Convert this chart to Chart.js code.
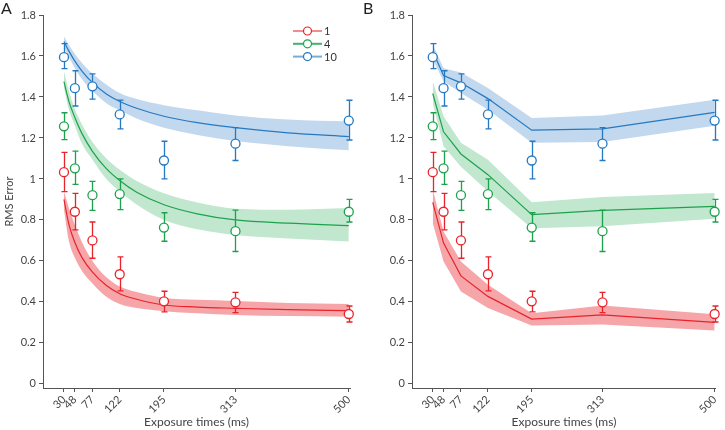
<!DOCTYPE html>
<html>
<head>
<meta charset="utf-8">
<script src="https://cdn.jsdelivr.net/npm/chart.js@4.4.1/dist/chart.umd.min.js"></script>
<style>
  html, body { margin: 0; padding: 0; background: #fff; }
  #wrap { position: relative; width: 725px; height: 430px; }
  canvas { position: absolute; top: 0; }
  #chartA { left: 0; }
  #chartB { left: 362px; }
</style>
</head>
<body>
<div id="wrap">
  <canvas id="chartA" width="362" height="430"></canvas>
  <canvas id="chartB" width="363" height="430"></canvas>
</div>
<script>
// categories / ticks
const setSizes = ['1', '4', '10'];
const exposureTimes = [30, 48, 77, 122, 195, 313, 500];
const yTicks = [0, 0.2, 0.4, 0.6, 0.8, 1, 1.2, 1.4, 1.6, 1.8];
const yTickLabels = ['0', '0.2', '0.4', '0.6', '0.8', '1', '1.2', '1.4', '1.6', '1.8'];

// measured RMS error (circles) with error bar ends
const rms1 = [1.033, 0.84, 0.70, 0.535, 0.403, 0.398, 0.341];
const rms1Hi = [1.13, 0.93, 0.79, 0.62, 0.452, 0.447, 0.38];
const rms1Lo = [0.938, 0.752, 0.613, 0.454, 0.351, 0.348, 0.302];
const rms4 = [1.257, 1.052, 0.921, 0.926, 0.763, 0.745, 0.84];
const rms4Hi = [1.323, 1.136, 0.988, 1.0, 0.835, 0.848, 0.90];
const rms4Lo = [1.192, 0.974, 0.847, 0.85, 0.696, 0.646, 0.79];
const rms10 = [1.594, 1.443, 1.452, 1.315, 1.09, 1.172, 1.285];
const rms10Hi = [1.66, 1.528, 1.513, 1.385, 1.184, 1.25, 1.384];
const rms10Lo = [1.538, 1.356, 1.39, 1.244, 1.0, 1.09, 1.19];

// panel A: fitted curves
const fitTimes = [30, 38, 48, 60, 77, 100, 122, 150, 195, 250, 313, 400, 500];
const fitA1 = [0.90, 0.78, 0.69, 0.615, 0.545, 0.48, 0.44, 0.413, 0.385, 0.375, 0.369, 0.362, 0.358];
const fitA1Hi = [0.94, 0.86, 0.775, 0.69, 0.60, 0.52, 0.475, 0.448, 0.42, 0.41, 0.405, 0.395, 0.39];
const fitA1Lo = [0.85, 0.70, 0.615, 0.55, 0.49, 0.425, 0.39, 0.37, 0.355, 0.345, 0.336, 0.331, 0.328];
const fitA4 = [1.475, 1.38, 1.30, 1.22, 1.135, 1.05, 0.992, 0.935, 0.874, 0.83, 0.80, 0.784, 0.772];
const fitA4Hi = [1.525, 1.43, 1.34, 1.265, 1.18, 1.10, 1.045, 0.99, 0.93, 0.885, 0.855, 0.85, 0.858];
const fitA4Lo = [1.445, 1.34, 1.26, 1.17, 1.094, 1.0, 0.94, 0.875, 0.80, 0.755, 0.727, 0.71, 0.695];
const fitA10 = [1.67, 1.625, 1.575, 1.525, 1.47, 1.415, 1.378, 1.345, 1.306, 1.275, 1.25, 1.225, 1.207];
const fitA10Hi = [1.695, 1.655, 1.61, 1.565, 1.515, 1.46, 1.42, 1.39, 1.36, 1.335, 1.31, 1.29, 1.28];
const fitA10Lo = [1.645, 1.595, 1.54, 1.485, 1.43, 1.37, 1.335, 1.295, 1.25, 1.215, 1.185, 1.16, 1.14];

// panel B: model values at each exposure time
const fitB1 = [0.886, 0.687, 0.527, 0.427, 0.316, 0.337, 0.30];
const fitB1Hi = [0.948, 0.744, 0.597, 0.484, 0.345, 0.382, 0.34];
const fitB1Lo = [0.785, 0.597, 0.451, 0.37, 0.285, 0.29, 0.26];
const fitB4 = [1.417, 1.23, 1.122, 1.021, 0.826, 0.847, 0.866];
const fitB4Hi = [1.477, 1.306, 1.177, 1.094, 0.886, 0.912, 0.932];
const fitB4Lo = [1.37, 1.16, 1.06, 0.94, 0.76, 0.769, 0.806];
const fitB10 = [1.623, 1.505, 1.469, 1.392, 1.238, 1.244, 1.325];
const fitB10Hi = [1.656, 1.54, 1.52, 1.444, 1.298, 1.31, 1.387];
const fitB10Lo = [1.583, 1.477, 1.42, 1.338, 1.177, 1.18, 1.26];

const lineColors = ['#e8232b', '#1ca24c', '#2479c2'];
const bandColors = ['#f6a6a9', '#c1e7cf', '#c2d8ee'];
const legendLineColors = ['#f28c90', '#3fb46a', '#77acd9'];
const FONT = 'Lato, "Open Sans", sans-serif';

const pts = (xs, ys) => xs.map((x, i) => ({ x: x, y: ys[i] }));

function buildDatasets(times, fits, smooth) {
  const obs = [[rms1, rms1Hi, rms1Lo], [rms4, rms4Hi, rms4Lo], [rms10, rms10Hi, rms10Lo]];
  const out = [];
  fits.forEach((f, k) => {
    const common = { tension: 0, cubicInterpolationMode: smooth ? 'monotone' : 'default', pointRadius: 0 };
    out.push(Object.assign({ data: pts(times, f[1]), borderWidth: 0, backgroundColor: bandColors[k], fill: '+1', order: 3 }, common));
    out.push(Object.assign({ data: pts(times, f[2]), borderWidth: 0, fill: false, order: 3 }, common));
    out.push(Object.assign({ data: pts(times, f[0]), borderColor: lineColors[k], borderWidth: 1.2, fill: false, order: 2 }, common));
  });
  obs.forEach((o, k) => {
    out.push({
      data: pts(exposureTimes, o[0]), errHi: o[1], errLo: o[2],
      showLine: false, pointRadius: 4.5, pointBorderWidth: 1.3,
      pointBackgroundColor: '#fff', pointBorderColor: lineColors[k], borderColor: lineColors[k],
      clip: false, order: 1
    });
  });
  return out;
}

const errorBars = {
  id: 'errorBars',
  beforeDatasetDraw(chart, args) {
    const ds = chart.data.datasets[args.index];
    if (!ds.errHi) return;
    const ctx = chart.ctx, xs = chart.scales.x, ys = chart.scales.y;
    ctx.save();
    ctx.strokeStyle = ds.borderColor;
    ctx.lineWidth = 1.3;
    ds.data.forEach((p, i) => {
      const x = Math.round(xs.getPixelForValue(p.x)) + 0.5;
      const yh = ys.getPixelForValue(ds.errHi[i]);
      const yl = ys.getPixelForValue(ds.errLo[i]);
      ctx.beginPath();
      ctx.moveTo(x, yh); ctx.lineTo(x, yl);
      ctx.moveTo(x - 3, yh); ctx.lineTo(x + 3, yh);
      ctx.moveTo(x - 3, yl); ctx.lineTo(x + 3, yl);
      ctx.stroke();
    });
    ctx.restore();
  }
};

function decorations(letter, withLegend) {
  return {
    id: 'decor' + letter,
    afterDraw(chart) {
      const ctx = chart.ctx;
      ctx.save();
      ctx.fillStyle = '#222';
      ctx.font = '16px ' + FONT;
      ctx.textBaseline = 'top';
      ctx.fillText(letter, 1, 1);
      if (withLegend) {
        ctx.font = '11px ' + FONT;
        ctx.textBaseline = 'middle';
        setSizes.forEach((s, i) => {
          const y = 31 + i * 12.8;
          ctx.strokeStyle = legendLineColors[i];
          ctx.lineWidth = 2;
          ctx.beginPath(); ctx.moveTo(293, y); ctx.lineTo(322, y); ctx.stroke();
          ctx.beginPath(); ctx.arc(307.5, y, 4, 0, Math.PI * 2);
          ctx.fillStyle = '#fff'; ctx.fill();
          ctx.strokeStyle = lineColors[i]; ctx.lineWidth = 1.2; ctx.stroke();
          ctx.fillStyle = '#333';
          ctx.fillText(s, 324, y + 0.5);
        });
      }
      ctx.restore();
    }
  };
}

function makeChart(id, letter, times, fits, smooth, yWidth, padRight) {
  const tickFont = { family: FONT, size: 11 };
  return new Chart(document.getElementById(id), {
    type: 'line',
    data: { datasets: buildDatasets(times, fits, smooth) },
    options: {
      responsive: false,
      animation: false,
      layout: { padding: { top: 15, right: padRight, bottom: 0, left: 0 } },
      plugins: { legend: { display: false }, tooltip: { enabled: false } },
      scales: {
        x: {
          type: 'linear', min: -4.6, max: 502,
          afterBuildTicks: s => { s.ticks = exposureTimes.map(v => ({ value: v })); },
          afterFit: s => { s.height = 42; },
          ticks: { autoSkip: false, minRotation: 45, maxRotation: 45, padding: 1, color: '#444', font: tickFont, callback: v => String(v) },
          grid: { drawOnChartArea: false, tickLength: 4, color: '#555' },
          border: { color: '#555', width: 1 },
          title: { display: true, text: 'Exposure times (ms)', color: '#444', font: { family: FONT, size: 12 }, padding: { top: 0, bottom: 1 } }
        },
        y: {
          type: 'linear', min: -0.02, max: 1.8,
          afterBuildTicks: s => { s.ticks = yTicks.map(v => ({ value: v })); },
          afterFit: s => { s.width = yWidth; },
          ticks: { padding: 3, color: '#444', font: tickFont, callback: (v, i) => yTickLabels[i] },
          grid: { drawOnChartArea: false, tickLength: 4, color: '#555' },
          border: { color: '#555', width: 1 },
          title: { display: letter === 'A', text: 'RMS Error', color: '#444', font: { family: FONT, size: 11 }, padding: { top: 3, bottom: 0 } }
        }
      }
    },
    plugins: [errorBars, decorations(letter, letter === 'A')]
  });
}

makeChart('chartA', 'A', fitTimes,
  [[fitA1, fitA1Hi, fitA1Lo], [fitA4, fitA4Hi, fitA4Lo], [fitA10, fitA10Hi, fitA10Lo]], true, 43, 12);
makeChart('chartB', 'B', exposureTimes,
  [[fitB1, fitB1Hi, fitB1Lo], [fitB4, fitB4Hi, fitB4Lo], [fitB10, fitB10Hi, fitB10Lo]], false, 50, 6);
</script>
</body>
</html>
